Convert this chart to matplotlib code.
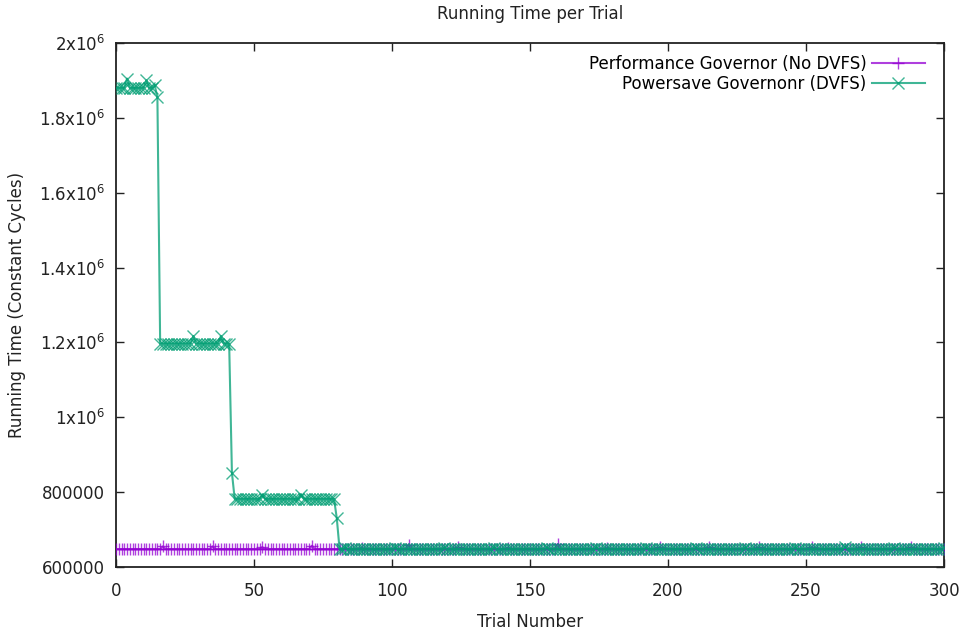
import numpy as np
import matplotlib
matplotlib.use("Agg")
import matplotlib.pyplot as plt
from matplotlib.ticker import FixedLocator

# ---- data ----
trials = list(range(0, 301))

# Powersave governor: run-length levels (start, end inclusive, value)
powersave_levels = [
    (0, 14, 1880000),
    (15, 15, 1855000),
    (16, 41, 1197000),
    (42, 42, 852000),
    (43, 79, 782000),
    (80, 80, 730000),
    (81, 300, 648000),
]
# Individual points that stand out from their level
powersave_spikes = {
    4: 1905000, 11: 1900000, 14: 1888000,
    28: 1217000, 38: 1217000,
    53: 792000, 67: 792000,
    83: 652000, 101: 652000, 119: 652000, 137: 652000, 156: 652000,
    174: 652000, 192: 652000, 210: 652000, 228: 652000, 246: 652000,
    264: 654000, 282: 652000, 300: 652000,
}

# Performance governor: flat level with small spikes
performance_level = 648000
performance_spikes = {
    17: 655000, 35: 655000, 53: 653000, 71: 657000, 89: 652000,
    106: 660000, 124: 653000, 142: 652000, 160: 661000, 178: 652000,
    197: 653000, 215: 653000, 233: 653000, 252: 653000, 270: 653000,
    288: 653000,
}

yticks = [600000, 800000, 1000000, 1200000, 1400000, 1600000, 1800000, 2000000]
ytick_labels = ["600000", "800000", r"1x10$^{6}$", r"1.2x10$^{6}$", r"1.4x10$^{6}$",
                r"1.6x10$^{6}$", r"1.8x10$^{6}$", r"2x10$^{6}$"]
xticks = [0, 50, 100, 150, 200, 250, 300]

# ---- build series ----
powersave = np.zeros(len(trials))
for s, e, v in powersave_levels:
    powersave[s:e + 1] = v
for k, v in powersave_spikes.items():
    powersave[k] = v
performance = np.full(len(trials), float(performance_level))
for k, v in performance_spikes.items():
    performance[k] = v

# ---- figure ----
plt.rcParams['font.family'] = ['DejaVu Sans']
fig = plt.figure(figsize=(9.64, 6.31), dpi=100)
ax = fig.add_axes([116/964, 1 - 567/631, (944 - 116)/964, (567 - 43)/631])

purple = '#9400d3'
green = '#009e73'

ax.plot(trials, performance, color=purple, lw=1.5, marker='+', ms=9, mew=1.0,
        alpha=0.75, label='Performance Governor (No DVFS)', zorder=3)
ax.plot(trials, powersave, color=green, lw=1.5, marker='x', ms=8, mew=1.0,
        alpha=0.75, label='Powersave Governonr (DVFS)', zorder=4)

ax.set_xlim(0, 300)
ax.set_ylim(600000, 2000000)
ax.xaxis.set_major_locator(FixedLocator(xticks))
ax.set_xticklabels([str(t) for t in xticks])
ax.yaxis.set_major_locator(FixedLocator(yticks))
ax.set_yticklabels(ytick_labels)

ax.tick_params(direction='in', length=6, width=1, top=True, right=True,
               labelsize=12, colors='#222222', pad=8)
ax.tick_params(axis='x', pad=11)
for sp in ax.spines.values():
    sp.set_linewidth(1.3)
    sp.set_color('#222222')

ax.set_title('Running Time per Trial', fontsize=12, pad=17, color='#222222')
ax.set_xlabel('Trial Number', fontsize=12, labelpad=9, color='#222222')
ax.set_ylabel('Running Time (Constant Cycles)', fontsize=12, labelpad=9, color='#222222')

leg = ax.legend(loc='upper right', bbox_to_anchor=(0.995, 1.006), frameon=False,
                markerfirst=False, alignment='right',
                fontsize=12, handlelength=3.2, handletextpad=0.3, labelspacing=0.1,
                borderaxespad=0.5)
for h in leg.legend_handles:
    h.set_alpha(0.75)

fig.savefig('out.png', dpi=100)
